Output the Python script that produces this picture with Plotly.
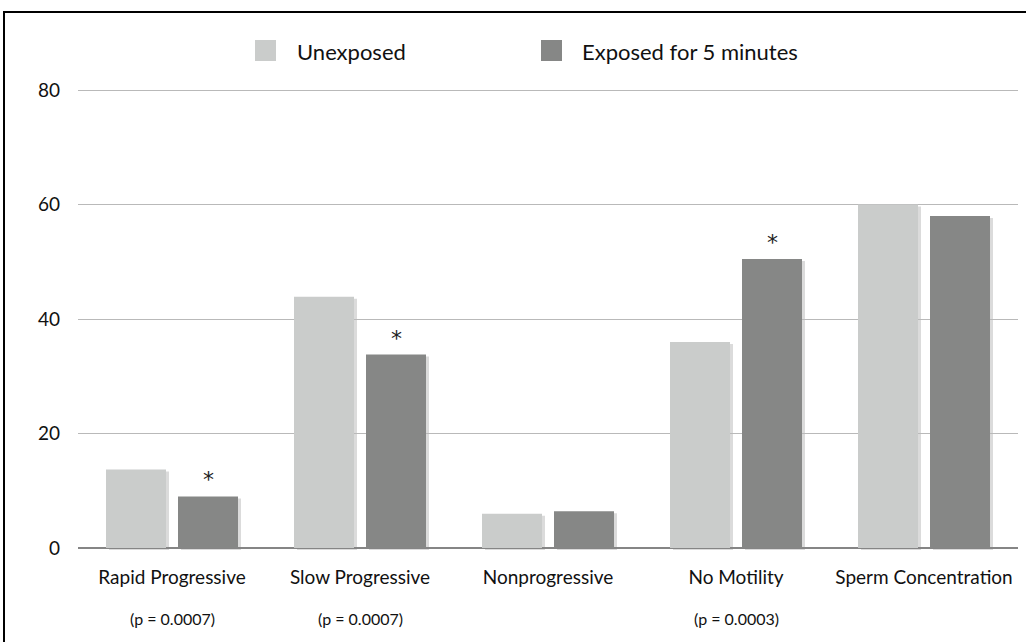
import plotly.graph_objects as go

# ---- data ----
categories = ["Rapid Progressive", "Slow Progressive", "Nonprogressive", "No Motility", "Sperm Concentration"]
unexposed = [13.7, 43.9, 6.0, 36.0, 60.0]
exposed = [9.0, 33.8, 6.4, 50.5, 58.0]
significant = [True, True, False, True, False]
p_values = ["(p = 0.0007)", "(p = 0.0007)", "", "(p = 0.0003)", ""]
series_names = ["Unexposed", "Exposed for 5 minutes"]
y_ticks = [0, 20, 40, 60, 80]

# ---- style ----
FONT = "Lato"
C_UNEXP = "#cacccb"
C_EXP = "#868786"
C_SHADOW = "rgba(0,0,0,0.14)"
W, H = 1026, 642
SX, SY = 3, 2                      # shadow offset in px
ML, MR, MT, MB = 78, 8 - SX, 80, 94 - SY
PW, PH = W - ML - MR, H - MT - MB  # full plotting region (main + shadow)
MAIN_PW, MAIN_PH = PW - SX, PH - SY
UNIT = 458 / 80                     # px per data unit
YTOP = MAIN_PH / UNIT


def px_x(p):
    return (p - ML) / PW


def px_y(p):
    return (H - MB - p) / PH


fig = go.Figure()
# soft drop shadows (drawn first, on slightly shifted axes)
for vals in (unexposed, exposed):
    fig.add_trace(go.Bar(x=categories, y=vals, xaxis="x", yaxis="y", showlegend=False,
                         hoverinfo="skip", marker=dict(color=C_SHADOW, line=dict(width=0))))
# main bars
fig.add_trace(go.Bar(x=categories, y=unexposed, name=series_names[0], xaxis="x2", yaxis="y2",
                     marker=dict(color=C_UNEXP, line=dict(width=0)), showlegend=False))
fig.add_trace(go.Bar(x=categories, y=exposed, name=series_names[1], xaxis="x2", yaxis="y2",
                     marker=dict(color=C_EXP, line=dict(width=0)), showlegend=False))

annotations = []
for cat, val, sig in zip(categories, exposed, significant):
    if sig:
        annotations.append(dict(x=cat, y=val, xref="x2", yref="y2", text="*", showarrow=False,
                                xshift=36, yanchor="bottom", yshift=2, bgcolor="white",
                                font=dict(family="DejaVu Sans", size=22, color="#222")))
for cat, p in zip(categories, p_values):
    if p:
        annotations.append(dict(x=cat, y=px_y(618), xref="x2", yref="paper", text=p, showarrow=False,
                                yanchor="middle", font=dict(family=FONT, size=16, color="#111")))

# manual legend
shapes = []
legend_items = [(255, 295, C_UNEXP, series_names[0]), (541, 580, C_EXP, series_names[1])]
for sx, tx, col, name in legend_items:
    shapes.append(dict(type="rect", xref="paper", yref="paper",
                       x0=px_x(sx), x1=px_x(sx + 21), y0=px_y(61), y1=px_y(40),
                       fillcolor=col, line=dict(width=0)))
    annotations.append(dict(x=px_x(tx), y=px_y(51), xref="paper", yref="paper", text=name,
                            showarrow=False, xanchor="left", yanchor="middle",
                            font=dict(family=FONT, size=22, color="#111")))

# outer frame
shapes.append(dict(type="rect", xref="paper", yref="paper",
                   x0=px_x(4), x1=px_x(1032), y0=px_y(650), y1=px_y(12),
                   line=dict(color="black", width=2), fillcolor="rgba(0,0,0,0)", layer="above"))

hidden = dict(visible=False, showgrid=False, zeroline=False)
fig.update_layout(
    width=W, height=H,
    margin=dict(l=ML, r=MR, t=MT, b=MB),
    paper_bgcolor="white", plot_bgcolor="rgba(0,0,0,0)",
    barmode="group", bargap=0.234, bargroupgap=1 / 6,
    font=dict(family=FONT, color="#111"),
    showlegend=False,
    annotations=annotations,
    shapes=shapes,
    xaxis=dict(hidden, domain=[SX / PW, 1], anchor="y"),
    yaxis=dict(hidden, domain=[0, MAIN_PH / PH], range=[0, YTOP], anchor="x"),
    xaxis2=dict(domain=[0, MAIN_PW / PW], anchor="y2", showline=False, showgrid=False, ticks="",
                tickfont=dict(size=19, color="#111"), ticklabelstandoff=14 + SY),
    yaxis2=dict(domain=[SY / PH, 1], anchor="x2", range=[0, YTOP], tickvals=y_ticks,
                showgrid=True, gridcolor="#b9b9b9", gridwidth=1,
                zeroline=True, zerolinecolor="#858585", zerolinewidth=2, showline=False, ticks="",
                tickfont=dict(size=19, color="#111"), ticklabelstandoff=17),
)

fig.write_html("out.html", config={"displayModeBar": False},
               post_script="document.body.style.margin='0';document.body.style.overflow='hidden';")
